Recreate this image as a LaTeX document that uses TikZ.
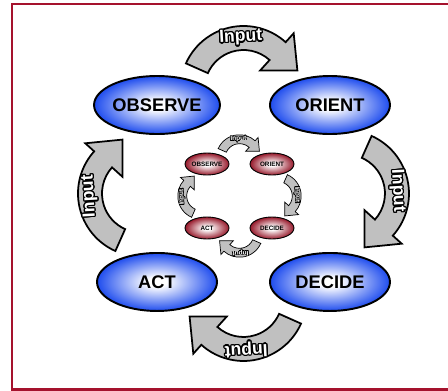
\documentclass[tikz,border=0pt]{standalone}
\usepackage{fontspec}
\setsansfont{Liberation Sans}
\usepackage{contour}
\usepackage{tikz}
\usetikzlibrary{positioning}
\usetikzlibrary{shapes.geometric}
\usetikzlibrary{calc}

\definecolor{ringblue}{RGB}{30,76,238}
\definecolor{ringred}{RGB}{150,24,42}
\definecolor{framered}{RGB}{165,18,45}
\definecolor{bandgray}{RGB}{192,192,192}

\pgfdeclareradialshading{blueglow}{\pgfpoint{0bp}{0bp}}{color(0bp)=(white); color(4bp)=(white); color(25bp)=(ringblue); color(50bp)=(ringblue)}
\pgfdeclareradialshading{redglow}{\pgfpoint{0bp}{0bp}}{color(0bp)=(white); color(4bp)=(white); color(25bp)=(ringred); color(50bp)=(ringred)}

\contourlength{0.7pt}

\begin{document}
\begin{tikzpicture}[
            x = 0.02cm, y = 0.02cm, % one unit is one pixel
            semithick % line style
        ]

        \tikzstyle{phase}=[
            ellipse,
            draw = black,
            line width = 1.1pt,
            minimum width = 2.4cm,
            minimum height = 1.16cm,
            inner sep = 0pt,
            shading = blueglow,
            font = \sffamily\bfseries\fontsize{10.4}{12}\selectfont
        ]
        \tikzstyle{minor phase}=[
            phase,
            line width = 0.5pt,
            minimum width = 0.88cm,
            minimum height = 0.44cm,
            shading = redglow,
            font = \sffamily\bfseries\fontsize{3.6}{4}\selectfont
        ]
        \tikzstyle{band}=[fill = bandgray, draw = black, line join = miter]
        \tikzstyle{input}=[text = white, inner sep = 0pt,
            font = \sffamily\bfseries\fontsize{10}{12}\selectfont]

        \clip (0,0) rectangle (448,390);
        \draw[framered, line width = 1.4pt] (12,0.5) rectangle (470,386);

	% outer loop
        \node[phase] (OBSERVE) at (157,285) {OBSERVE};
        \node[phase] (ORIENT) [right of = OBSERVE, node distance = 3.46cm] {ORIENT};
        \node[phase] (ACT) [below of = OBSERVE, node distance = 3.54cm] {ACT};
        \node[phase] (DECIDE) [right of = ACT, node distance = 3.46cm] {DECIDE};

        % inner loop
        \node[minor phase] (sOBSERVE) at (207,226) {OBSERVE};
        \node[minor phase] (sORIENT) [right of = sOBSERVE, node distance = 1.3cm] {ORIENT};
        \node[minor phase] (sACT) [below of = sOBSERVE, node distance = 1.28cm] {ACT};
        \node[minor phase] (sDECIDE) [right of = sACT, node distance = 1.3cm] {DECIDE};

        % input arrows, outer loop
        \foreach \a/\b/\k in {OBSERVE/ORIENT/0, ORIENT/DECIDE/1, DECIDE/ACT/2, ACT/OBSERVE/3} {
            \begin{scope}[shift = {($(\a)!0.5!(\b)$)}, rotate = -90*\k, shift = {(0,16)}]
                \filldraw[band, line width = 1pt] (156:39) -- (156:63)
                    arc[start angle = 156, end angle = 48, radius = 63]
                    -- (48:75) -- (19:57) -- (48:25) -- (48:39)
                    arc[start angle = 48, end angle = 156, radius = 39] -- cycle;
                \node[input, rotate = 3-90*\k] at (93:51) {\contour{black}{Input}};
            \end{scope}
        }

        % input arrows, inner loop
        \foreach \a/\b/\k in {sOBSERVE/sORIENT/0, sORIENT/sDECIDE/1, sDECIDE/sACT/2, sACT/sOBSERVE/3} {
            \begin{scope}[shift = {($(\a)!0.5!(\b)$)}, rotate = -90*\k, scale = 0.37, shift = {(0,16)}]
                \filldraw[band, line width = 0.4pt] (156:39) -- (156:63)
                    arc[start angle = 156, end angle = 48, radius = 63]
                    -- (48:75) -- (19:57) -- (48:25) -- (48:39)
                    arc[start angle = 48, end angle = 156, radius = 39] -- cycle;
                \node[input, scale = 0.37, rotate = 3-90*\k] at (93:51) {\contour{black}{Input}};
            \end{scope}
        }

\end{tikzpicture}
\end{document}
